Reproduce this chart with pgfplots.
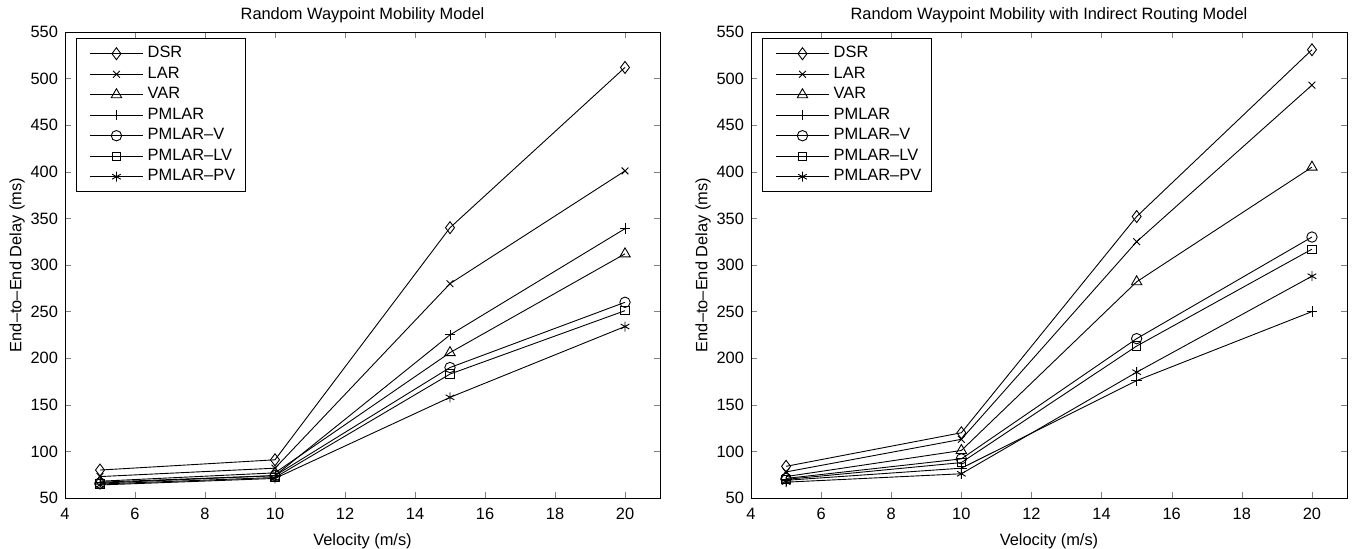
\documentclass[border=0pt]{standalone}
\usepackage{fontspec}
\setmainfont{Liberation Sans}
\usepackage{pgfplots}
\pgfplotsset{compat=1.18}
\usetikzlibrary{plotmarks}
\newcommand{\fs}{\fontsize{8.2}{9.6}\selectfont}
\pgfplotsset{
  mystyle/.style={
    scale only axis, width=297.5pt, height=233pt,
    xmin=4, xmax=21, ymin=50, ymax=550,
    xtick={4,6,...,20}, ytick={50,100,...,550},
    tick align=inside, major tick length=3pt,
    /pgf/number format/assume math mode=true,
    font=\fs,
    ticklabel style={font=\fs},
    xticklabel style={yshift=-1.5pt},
    xlabel={Velocity (m/s)}, ylabel={End–to–End Delay (ms)},
    ylabel style={yshift=-4pt},
    title style={yshift=-5pt},
    legend cell align=left,
    legend style={draw=black, inner xsep=3pt, inner ysep=2pt, row sep=-0.9pt, font=\fs, at={(rel axis cs:0.0185,0.987)}, anchor=north west},
    legend image code/.code={\path (-3.5pt,0pt); \draw[mark repeat=2,mark phase=2,#1] plot coordinates {(0pt,0pt)(13.3pt,0pt)(26.7pt,0pt)};},
    every axis plot/.append style={black, line width=0.45pt, mark options={solid, fill=none, line width=0.45pt}},
  },
  pdsr/.style={mark=diamond, mark size=3pt},
  plar/.style={mark=x, mark size=2.4pt},
  pvar/.style={mark=triangle, mark size=3pt},
  ppm/.style={mark=+, mark size=2.6pt},
  pv/.style={mark=o, mark size=2.6pt},
  plv/.style={mark=square, mark size=2.1pt},
  ppv/.style={mark=asterisk, mark size=2.5pt},
}
\begin{document}
\begin{tikzpicture}
\useasboundingbox (-32.5pt,-25pt) rectangle (646.5pt,249pt);
\begin{axis}[mystyle, title={Random Waypoint Mobility Model}]
\addplot[pdsr] coordinates {(5,80)(10,91)(15,340)(20,512)};
\addplot[plar] coordinates {(5,73)(10,82)(15,280)(20,401)};
\addplot[pvar] coordinates {(5,68)(10,77)(15,206)(20,312)};
\addplot[ppm] coordinates {(5,67)(10,74)(15,225)(20,339)};
\addplot[pv] coordinates {(5,66)(10,74)(15,190)(20,260)};
\addplot[plv] coordinates {(5,65)(10,72)(15,183)(20,251)};
\addplot[ppv] coordinates {(5,64)(10,71)(15,158)(20,234)};
\legend{DSR,LAR,VAR,PMLAR,PMLAR–V,PMLAR–LV,PMLAR–PV}
\end{axis}
\begin{axis}[mystyle, width=298pt, xshift=343pt, title={Random Waypoint Mobility with Indirect Routing Model}]
\addplot[pdsr] coordinates {(5,84)(10,120)(15,352)(20,531)};
\addplot[plar] coordinates {(5,78)(10,113)(15,325)(20,493)};
\addplot[pvar] coordinates {(5,73)(10,101)(15,282)(20,405)};
\addplot[ppm] coordinates {(5,69)(10,82)(15,176)(20,250)};
\addplot[pv] coordinates {(5,71)(10,92)(15,221)(20,330)};
\addplot[plv] coordinates {(5,70)(10,88)(15,213)(20,317)};
\addplot[ppv] coordinates {(5,67)(10,76)(15,185)(20,288)};
\legend{DSR,LAR,VAR,PMLAR,PMLAR–V,PMLAR–LV,PMLAR–PV}
\end{axis}
\end{tikzpicture}
\end{document}
